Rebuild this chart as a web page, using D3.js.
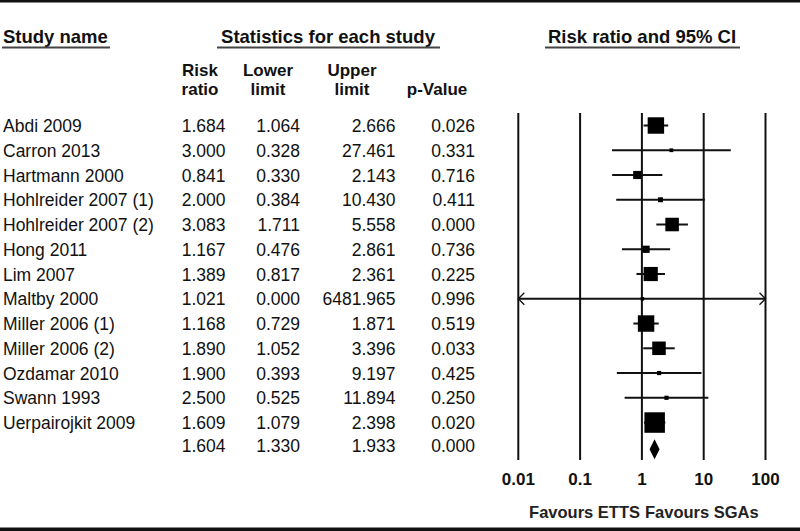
<!DOCTYPE html>
<html><head><meta charset="utf-8">
<script src="https://cdn.jsdelivr.net/npm/d3@7"></script>
<style>
html,body{margin:0;padding:0;background:#fff;}
svg{display:block;font-family:Arial,"Liberation Sans",sans-serif;}
</style></head>
<body>
<svg id="c" width="800" height="531"></svg>
<script>
const studies = ["Abdi 2009","Carron 2013","Hartmann 2000","Hohlreider 2007 (1)","Hohlreider 2007 (2)","Hong 2011","Lim 2007","Maltby 2000","Miller 2006 (1)","Miller 2006 (2)","Ozdamar 2010","Swann 1993","Uerpairojkit 2009"];
const riskRatio = [1.684,3.000,0.841,2.000,3.083,1.167,1.389,1.021,1.168,1.890,1.900,2.500,1.609];
const lowerLimit = [1.064,0.328,0.330,0.384,1.711,0.476,0.817,0.000,0.729,1.052,0.393,0.525,1.079];
const upperLimit = [2.666,27.461,2.143,10.430,5.558,2.861,2.361,6481.965,1.871,3.396,9.197,11.894,2.398];
const pValue = ["0.026","0.331","0.716","0.411","0.000","0.736","0.225","0.996","0.519","0.033","0.425","0.250","0.020"];
const weights = [15.5,0.8,3.8,1.4,10.5,3.0,11.5,0.5,15.5,10.5,1.0,1.0,24.1];
const summary = {rr:1.604, lo:1.330, hi:1.933, p:"0.000"};
const tickValues = [0.01,0.1,1,10,100];
const tickLabels = ["0.01","0.1","1","10","100"];
const fmt = d3.format(".3f");

const svg = d3.select("#c");
const x = d3.scaleLog().domain([0.01,100]).range([518.3,765.5]);
const y = d3.scaleLinear().domain([0,13]).range([125.5,447.3]);
const size = d3.scaleSqrt().domain([0,24.1]).range([0,20.5]);

// borders
svg.append("rect").attr("x",0).attr("y",0).attr("width",800).attr("height",2.5).attr("fill","#111");
svg.append("rect").attr("x",0).attr("y",527.5).attr("width",800).attr("height",3.5).attr("fill","#111");

// headers
const hdr = [
  {t:"Study name", x:3, anchor:"start", u:[2,110]},
  {t:"Statistics for each study", x:328, anchor:"middle", u:[217,440]},
  {t:"Risk ratio and 95% CI", x:642, anchor:"middle", u:[545,740]}
];
hdr.forEach(h=>{
  svg.append("text").attr("x",h.x).attr("y",43).attr("text-anchor",h.anchor)
    .attr("font-size",18.5).attr("font-weight","bold").attr("fill","#111").text(h.t);
  svg.append("line").attr("x1",h.u[0]).attr("x2",h.u[1]).attr("y1",47.5).attr("y2",47.5)
    .attr("stroke","#444").attr("stroke-width",2);
});

const colHdr = [
  {l1:"Risk", l2:"ratio", x:200},
  {l1:"Lower", l2:"limit", x:268},
  {l1:"Upper", l2:"limit", x:352},
  {l1:"", l2:"p-Value", x:437}
];
colHdr.forEach(c=>{
  if (c.l1) svg.append("text").attr("x",c.x).attr("y",76).attr("text-anchor","middle")
    .attr("font-size",17).attr("font-weight","bold").attr("fill","#111").text(c.l1);
  svg.append("text").attr("x",c.x).attr("y",95).attr("text-anchor","middle")
    .attr("font-size",17).attr("font-weight","bold").attr("fill","#111").text(c.l2);
});

// table rows
const colX = [225.5, 300, 395.5, 475];
const rowsG = svg.append("g").attr("font-size",17.5).attr("fill","#111");
studies.forEach((s,i)=>{
  const yy = y(i)+6.5;
  rowsG.append("text").attr("x",3).attr("y",yy).text(s);
  [fmt(riskRatio[i]),fmt(lowerLimit[i]),fmt(upperLimit[i]),pValue[i]].forEach((v,j)=>{
    rowsG.append("text").attr("x",colX[j]).attr("y",yy).attr("text-anchor","end").text(v);
  });
});
{
  const yy = y(13)+5;
  [fmt(summary.rr),fmt(summary.lo),fmt(summary.hi),summary.p].forEach((v,j)=>{
    rowsG.append("text").attr("x",colX[j]).attr("y",yy).attr("text-anchor","end").text(v);
  });
}

// vertical grid lines
tickValues.forEach(t=>{
  svg.append("line").attr("x1",x(t)).attr("x2",x(t)).attr("y1",113).attr("y2",460)
    .attr("stroke","#111").attr("stroke-width",2);
});
// tick labels
tickValues.forEach((t,i)=>{
  svg.append("text").attr("x",x(t)).attr("y",485).attr("text-anchor","middle")
    .attr("font-size",17).attr("font-weight","bold").attr("fill","#111").text(tickLabels[i]);
});
svg.append("text").attr("x",640).attr("y",518).attr("text-anchor","end")
  .attr("font-size",16.5).attr("font-weight","bold").attr("fill","#222").text("Favours ETTS");
svg.append("text").attr("x",645).attr("y",518).attr("text-anchor","start")
  .attr("font-size",16.5).attr("font-weight","bold").attr("fill","#222").text("Favours SGAs");

// CI lines and boxes
const [dmin,dmax] = x.domain();
studies.forEach((s,i)=>{
  const yy = y(i);
  const lo = Math.max(lowerLimit[i], dmin), hi = Math.min(upperLimit[i], dmax);
  svg.append("line").attr("x1",x(lo)).attr("x2",x(hi)).attr("y1",yy).attr("y2",yy)
    .attr("stroke","#111").attr("stroke-width",2);
  if (lowerLimit[i] < dmin) {
    const x0 = x(dmin);
    svg.append("path").attr("d",`M${x0+6},${yy-6}L${x0},${yy}L${x0+6},${yy+6}`)
      .attr("fill","none").attr("stroke","#111").attr("stroke-width",1.3);
  }
  if (upperLimit[i] > dmax) {
    const x1 = x(dmax);
    svg.append("path").attr("d",`M${x1-6},${yy-6}L${x1},${yy}L${x1-6},${yy+6}`)
      .attr("fill","none").attr("stroke","#111").attr("stroke-width",1.3);
  }
  const sz = Math.max(size(weights[i]), 3.5);
  svg.append("rect").attr("x",x(riskRatio[i])-sz/2).attr("y",yy-sz/2)
    .attr("width",sz).attr("height",sz).attr("fill","#000");
});

// summary diamond
{
  const yy = y(13)+2;
  const cx = x(summary.rr);
  svg.append("path").attr("d",`M${x(summary.lo)},${yy}L${cx},${yy-10}L${x(summary.hi)},${yy}L${cx},${yy+10}Z`)
    .attr("fill","#000");
}
</script>
</body></html>
